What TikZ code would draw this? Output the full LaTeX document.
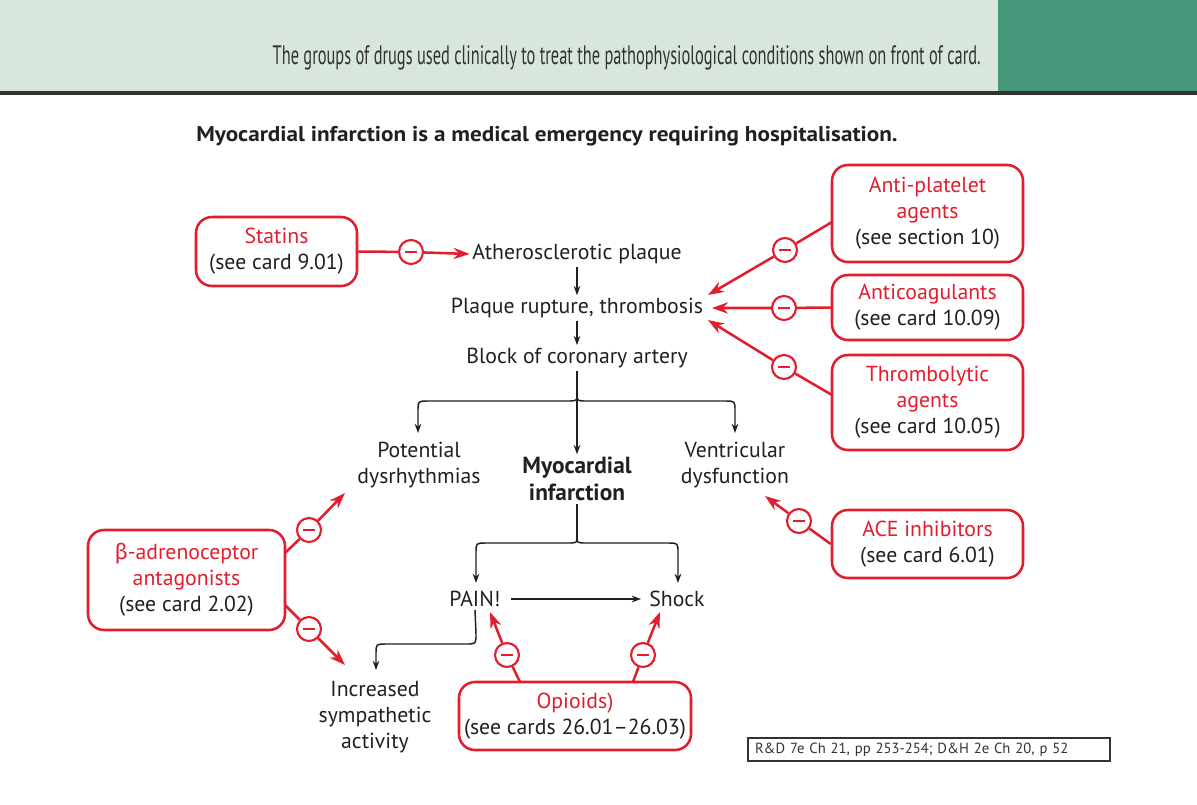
\documentclass[tikz,border=0pt]{standalone}
\usepackage{fontspec}
\setmainfont{PT Sans}
\newfontfamily\grfont{Fira Sans}
\usetikzlibrary{arrows.meta}
\definecolor{dred}{RGB}{224,30,45}
\definecolor{ink}{RGB}{35,31,32}
\definecolor{hdrlight}{RGB}{216,230,220}
\definecolor{hdrdark}{RGB}{69,151,122}
\definecolor{hdrline}{RGB}{50,50,50}
\tikzset{
  txt/.style={font=\fontsize{16.3}{19.6}\selectfont, text=ink, align=center, inner sep=2pt},
  drugbox/.style={draw=dred, line width=1.9pt, rounded corners=12pt, fill=white,
     font=\fontsize{16.3}{19.6}\selectfont, text=ink, align=center, inner sep=2pt},
  minus/.style={circle, draw=dred, line width=1.6pt, fill=white, minimum size=18pt, inner sep=0pt,
     path picture={\draw[dred, line width=1.4pt] ([xshift=-4.5pt]path picture bounding box.center) -- ([xshift=4.5pt]path picture bounding box.center);}},
  blk/.style={draw=ink, line width=1.1pt, -{Stealth[length=7pt,width=5pt]}},
  blkline/.style={draw=ink, line width=1.1pt},
  red/.style={draw=dred, line width=1.9pt, -{Stealth[length=12pt,width=8.5pt]}},
}
\begin{document}
\begin{tikzpicture}[x=0.75pt,y=-0.75pt]
\useasboundingbox (0,0) rectangle (1197,804);
% header
\fill[hdrlight] (0,0) rectangle (998,91);
\fill[hdrdark] (998,0) rectangle (1197,91);
\fill[hdrline] (0,91) rectangle (1197,94.5);
\node[anchor=east, inner sep=0pt, text=hdrline] (hdr) at (981,58)
  {\resizebox{531pt}{\height}{\fontsize{20}{22}\selectfont The groups of drugs used clinically to treat the pathophysiological conditions shown on front of card.}};
% title
\node[anchor=west, inner sep=0pt, text=ink] (title) at (196,136)
  {\resizebox{526pt}{\height}{\fontsize{16}{18}\bfseries\selectfont Myocardial infarction is a medical emergency requiring hospitalisation.}};

% main chain
\node[txt] (athero) at (577,254) {Atherosclerotic plaque};
\node[txt] (plaque) at (577,308) {Plaque rupture, thrombosis};
\node[txt] (block) at (577,358) {Block of coronary artery};
\node[txt] (pot) at (419,465) {Potential\\dysrhythmias};
\node[txt, font=\fontsize{17.5}{20}\bfseries\selectfont] (mi) at (577,479) {Myocardial\\infarction};
\node[txt] (vent) at (735,465) {Ventricular\\dysfunction};
\node[txt] (pain) at (475,599) {PAIN!};
\node[txt] (shock) at (677,599) {Shock};
\node[txt] (symp) at (375,717) {Increased\\sympathetic\\activity};

% drug boxes
\node[drugbox, minimum width=120.75pt, minimum height=51.75pt] (statins) at (276.5,251.5)
  {\textcolor{dred}{Statins}\\(see card 9.01)};
\node[drugbox, minimum width=147.75pt, minimum height=75pt] (beta) at (186.5,580)
  {\textcolor{dred}{{\grfont β}-adrenoceptor}\\\textcolor{dred}{antagonists}\\(see card 2.02)};
\node[drugbox, minimum width=174pt, minimum height=51pt] (opioid) at (575,716)
  {\textcolor{dred}{Opioids)}\\(see cards 26.01–26.03)};
\node[drugbox, minimum width=143.25pt, minimum height=72.75pt] (ap) at (927.5,213.5)
  {\textcolor{dred}{Anti-platelet}\\\textcolor{dred}{agents}\\(see section 10)};
\node[drugbox, minimum width=143.25pt, minimum height=48.75pt] (ac) at (927.5,307.5)
  {\textcolor{dred}{Anticoagulants}\\(see card 10.09)};
\node[drugbox, minimum width=143.25pt, minimum height=71.25pt] (th) at (927.5,402.5)
  {\textcolor{dred}{Thrombolytic}\\\textcolor{dred}{agents}\\(see card 10.05)};
\node[drugbox, minimum width=143.25pt, minimum height=51pt] (ace) at (927.5,544)
  {\textcolor{dred}{ACE inhibitors}\\(see card 6.01)};

% reference box
\node[draw=hdrline, line width=0.9pt, minimum width=271.5pt, minimum height=17.25pt, inner xsep=5pt, inner ysep=0pt,
  text width=261pt, align=left, text=hdrline, font=\fontsize{11}{12}\selectfont] (ref) at (929,749.5)
  {R\&D 7e Ch 21, pp 253-254; D\&H 2e Ch 20, p 52};

% black chain arrows
\draw[blk] (athero.south) -- (plaque.north);
\draw[blk] (plaque.south) -- (block.north);
\draw[blk] (block.south) -- (mi.north);
\coordinate (bc) at (577,394);
\draw[blk] (bc) .. controls (577,401) .. (567,401) -- (428,401) .. controls (418,401) .. (418,411) -- (418,433);
\draw[blk] (bc) .. controls (577,401) .. (587,401) -- (725,401) .. controls (735,401) .. (735,411) -- (735,433);
\coordinate (mc) at (577,537);
\draw[blkline] (mi.south) -- (mc);
\draw[blk] (mc) .. controls (577,543) .. (567,543) -- (486,543) .. controls (476,543) .. (476,553) -- (476,583);
\draw[blk] (mc) .. controls (577,543) .. (587,543) -- (668,543) .. controls (678,543) .. (678,553) -- (678,583);
\draw[blk, shorten <=6pt, shorten >=4pt] (pain.east) -- (shock.west);
\draw[blk] (pain.south) -- (476,634) .. controls (476,644) .. (466,644) -- (386,644) .. controls (376,644) .. (376,654) -- (376,670);

% inhibitor arrows
\node[minus] (m1) at (411,252) {};
\node[minus] (m2) at (785,250) {};
\node[minus] (m3) at (784,308) {};
\node[minus] (m4) at (784,367) {};
\node[minus] (m5) at (799,521) {};
\node[minus] (m6) at (309,530) {};
\node[minus] (m7) at (309,629) {};
\node[minus] (m8) at (507,655) {};
\node[minus] (m9) at (643,655) {};

\coordinate (t2) at (708,295);
\coordinate (t3) at (712,308);
\coordinate (t4) at (708,320);
\coordinate (t5) at (765,496);
\coordinate (t6) at (345,493);
\coordinate (t7) at (345,665);
\coordinate (t8) at (490,612);
\coordinate (t9) at (660,612);
\coordinate (s2) at (832,222);
\coordinate (s4) at (832,395);
\coordinate (s6) at (285,553);
\coordinate (s7) at (285,605);
\coordinate (s8) at (520,682);
\coordinate (s9) at (633,682);

\draw[red] (statins.east) -- (m1) -- (athero.west);
\draw[red] (s2) -- (m2) -- (t2);
\draw[red] (ac.west) -- (m3) -- (t3);
\draw[red] (s4) -- (m4) -- (t4);
\draw[red] (ace.west) -- (m5) -- (t5);
\draw[red] (s6) -- (m6) -- (t6);
\draw[red] (s7) -- (m7) -- (t7);
\draw[red] (s8) -- (m8) -- (t8);
\draw[red] (s9) -- (m9) -- (t9);
\end{tikzpicture}
\end{document}
